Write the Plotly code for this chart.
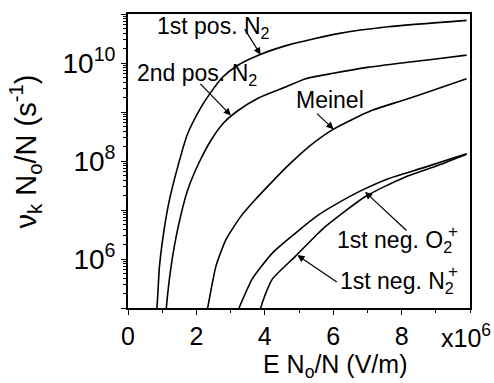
import plotly.graph_objects as go

# E N0/N in units of 10^6 V/m ; rates as log10(nu_k N0/N [s^-1])
E_pos1 = [0.80, 0.84, 0.92, 1.07, 1.21, 1.45, 1.74, 2.13, 2.40, 2.75, 3.20, 3.85, 4.70, 6.15, 7.60, 9.90]
L_pos1 = [4.90, 4.98, 5.85, 6.66, 7.20, 7.87, 8.55, 9.09, 9.38, 9.70, 9.95, 10.17, 10.37, 10.60, 10.74, 10.87]

E_pos2 = [1.11, 1.12, 1.26, 1.45, 1.74, 2.10, 2.45, 2.80, 3.20, 3.80, 4.50, 5.20, 6.00, 7.00, 8.00, 9.00, 9.90]
L_pos2 = [4.90, 5.00, 5.85, 6.60, 7.40, 8.00, 8.45, 8.78, 9.02, 9.28, 9.48, 9.68, 9.79, 9.91, 10.00, 10.08, 10.16]

E_meinel = [2.31, 2.33, 2.45, 2.57, 2.86, 3.30, 3.73, 4.22, 4.70, 5.30, 6.01, 7.12, 8.00, 8.58, 9.90]
L_meinel = [4.90, 5.00, 5.45, 5.85, 6.39, 6.87, 7.22, 7.58, 7.92, 8.30, 8.65, 9.03, 9.23, 9.36, 9.68]

E_negO2 = [3.22, 3.25, 3.40, 3.63, 4.22, 4.90, 5.57, 5.96, 6.83, 7.61, 8.67, 9.90]
L_negO2 = [4.90, 5.00, 5.25, 5.59, 6.12, 6.53, 6.90, 7.07, 7.40, 7.64, 7.87, 8.15]

E_negN2 = [3.85, 3.88, 4.00, 4.22, 4.90, 5.57, 5.77, 6.93, 8.09, 9.06, 9.90]
L_negN2 = [4.90, 5.00, 5.25, 5.59, 6.06, 6.53, 6.66, 7.27, 7.67, 7.91, 8.14]

x_ticks = [0, 2, 4, 6, 8]
x_ticktext = ["0", "2", "4", "6", "8"]
y_exps = [5, 6, 7, 8, 9, 10, 11]
y_ticktext = ["", "10<sup>6</sup>", "", "10<sup>8</sup>", "", "10<sup>10</sup>", ""]

FONT = "Liberation Sans, Arial, Helvetica, sans-serif"

fig = go.Figure()
for E, L in [(E_pos1, L_pos1), (E_pos2, L_pos2), (E_meinel, L_meinel),
             (E_negO2, L_negO2), (E_negN2, L_negN2)]:
    fig.add_trace(go.Scatter(x=E, y=[10 ** v for v in L], mode="lines",
                             line=dict(color="black", width=1.6, shape="spline", smoothing=0.6),
                             showlegend=False, hoverinfo="skip"))

minor_y = [m * 10 ** e for e in range(5, 11) for m in range(2, 10)]

fig.update_layout(
    width=494, height=383,
    margin=dict(l=128, r=24, t=12, b=75),
    paper_bgcolor="white", plot_bgcolor="white",
    font=dict(family=FONT, color="black"),
    xaxis=dict(range=[0, 10], tickvals=x_ticks, ticktext=x_ticktext,
               ticks="outside", ticklen=5, tickwidth=1.2, tickcolor="black",
               minor=dict(dtick=1, ticks="outside", ticklen=3, tickcolor="black"),
               showline=True, linecolor="black", linewidth=1.8, mirror=True,
               showgrid=False, zeroline=False,
               tickfont=dict(size=25, family=FONT, color="black")),
    yaxis=dict(type="log", range=[5, 11], tickvals=[10 ** e for e in y_exps], ticktext=y_ticktext,
               ticks="outside", ticklen=5, tickwidth=1.2, tickcolor="black",
               minor=dict(tickvals=minor_y, ticks="outside", ticklen=3, tickcolor="black"),
               showline=True, linecolor="black", linewidth=1.8, mirror=True,
               showgrid=False, zeroline=False,
               tickfont=dict(size=28, family=FONT, color="black")),
)

anns = []
# axis titles
anns.append(dict(text="E N<sub>o</sub>/N (V/m)", xref="paper", yref="paper", x=0.605, y=-0.198,
                 xanchor="center", yanchor="middle", showarrow=False,
                 font=dict(size=25, family=FONT, color="black")))
anns.append(dict(text="ν<sub>k</sub> N<sub>o</sub>/N (s<sup>-1</sup>)", xref="paper", yref="paper",
                 x=-0.3, y=0.534, textangle=-90, xanchor="center", yanchor="middle",
                 showarrow=False, font=dict(size=29, family=FONT, color="black")))
anns.append(dict(text="x10<sup>6</sup>", xref="paper", yref="paper", x=1.067, y=-0.095,
                 xanchor="right", yanchor="middle", showarrow=False,
                 font=dict(size=25, family=FONT, color="black")))

# curve labels
labels = [("1st pos. N<sub>2</sub>", 0.78, 10.72),
          ("2nd pos. N<sub>2</sub>", 0.195, 9.77),
          ("Meinel", 4.84, 9.24),
          ("1st neg. O<sub>2</sub>", 6.06, 6.35),
          ("1st neg. N<sub>2</sub>", 6.15, 5.53)]
for t, x, y in labels:
    anns.append(dict(text=t, x=x, y=y, xref="x", yref="y", xanchor="left", yanchor="middle",
                     showarrow=False, font=dict(size=23, family=FONT, color="black")))
for x, y in [(9.5, 6.57), (9.5, 5.74)]:
    anns.append(dict(text="+", x=x, y=y, xref="x", yref="y", xanchor="center", yanchor="middle",
                     showarrow=False, font=dict(size=17, family=FONT, color="black")))

# arrows (head on curve, tail offset in px)
arrows = [(3.88, 10.17, -17, -27),
          (3.01, 8.93, -32, -33),
          (6.01, 8.65, -18, -17),
          (6.93, 7.37, 43, 40),
          (4.95, 6.08, 41, 28)]
for x, y, ax, ay in arrows:
    anns.append(dict(text="", x=x, y=y, xref="x", yref="y", ax=ax, ay=ay,
                     showarrow=True, arrowhead=2, arrowsize=1.2, arrowwidth=1.2,
                     arrowcolor="black", standoff=0))

fig.update_layout(annotations=anns)
fig.write_html("out.html")
